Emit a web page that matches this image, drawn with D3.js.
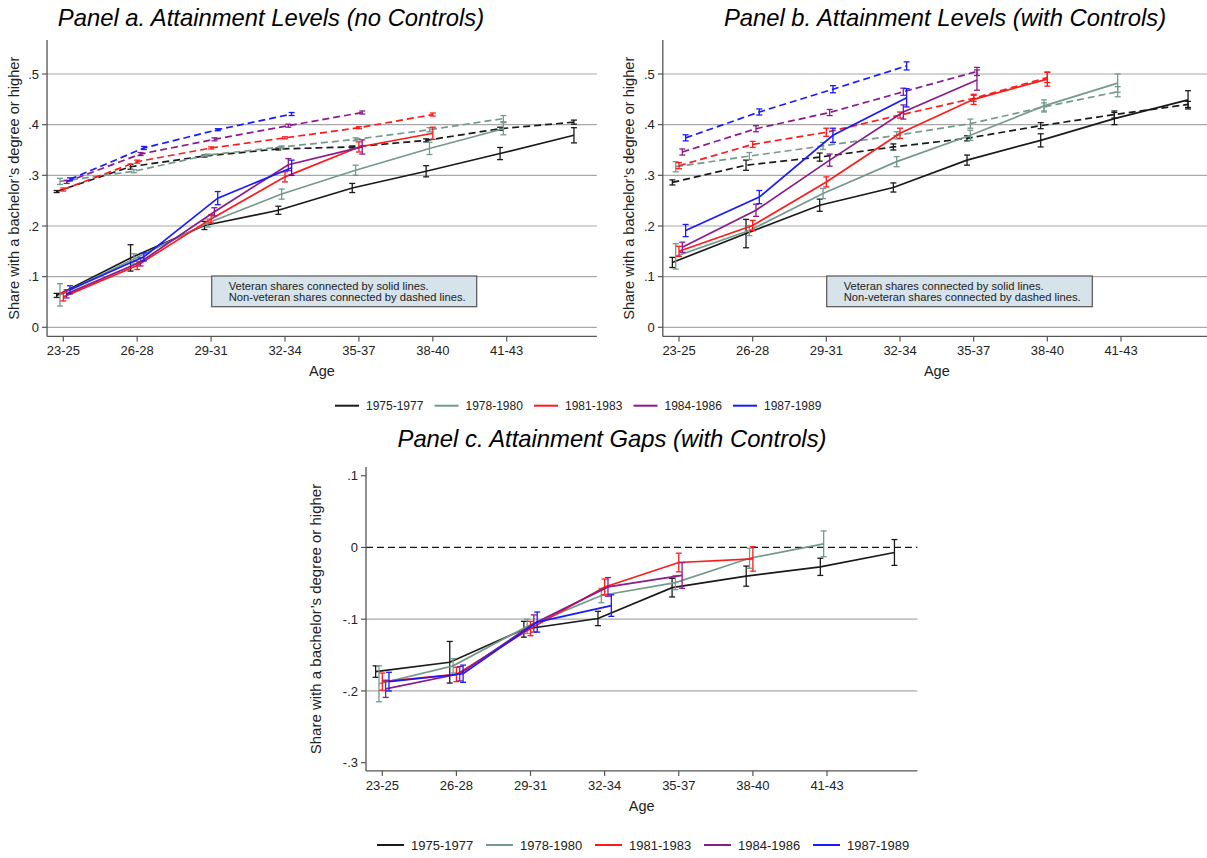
<!DOCTYPE html>
<html>
<head>
<meta charset="utf-8">
<script src="https://cdn.jsdelivr.net/npm/d3@7"></script>
<style>
  body { margin: 0; background: #fff; }
  svg { display: block; font-family: "Liberation Sans", Arial, sans-serif; }
</style>
</head>
<body>
<svg id="chart" width="1207" height="858"></svg>
<script>
// Cohorts and colours
const cohorts = ["1975-1977", "1978-1980", "1981-1983", "1984-1986", "1987-1989"];
const cohortColors = ["#1a1a1a", "#739a8a", "#ff1a1a", "#8b1a8b", "#1a1aff"];
const cohortOffsets = [-0.09, -0.045, 0, 0.045, 0.09];

// Age groups (last one has no tick label)
const ageGroups = ["23-25", "26-28", "29-31", "32-34", "35-37", "38-40", "41-43", "44-46"];
const tickLabels = ["23-25", "26-28", "29-31", "32-34", "35-37", "38-40", "41-43"];
const levelTicks = [0, 0.1, 0.2, 0.3, 0.4, 0.5];
const levelTickLabels = ["0", ".1", ".2", ".3", ".4", ".5"];
const gapTicks = [-0.3, -0.2, -0.1, 0, 0.1];
const gapTickLabels = ["-.3", "-.2", "-.1", "0", ".1"];
const noteLines = ["Veteran shares connected by solid lines.", "Non-veteran shares connected by dashed lines."];

// Panel a: no controls
const aVet = [
  [0.063, 0.137, 0.201, 0.231, 0.275, 0.308, 0.343, 0.379],
  [0.064, 0.135, 0.206, 0.263, 0.310, 0.353, 0.392],
  [0.060, 0.122, 0.214, 0.297, 0.356, 0.383],
  [0.066, 0.129, 0.228, 0.321, 0.356],
  [0.074, 0.139, 0.255, 0.315]
];
const aVetCI = [
  [0.004, 0.026, 0.008, 0.008, 0.009, 0.011, 0.012, 0.015],
  [0.022, 0.010, 0.008, 0.010, 0.010, 0.012, 0.012],
  [0.008, 0.008, 0.008, 0.010, 0.010, 0.012],
  [0.008, 0.008, 0.008, 0.012, 0.014],
  [0.008, 0.008, 0.013, 0.015]
];
const aNon = [
  [0.268, 0.317, 0.338, 0.352, 0.356, 0.369, 0.392, 0.405],
  [0.288, 0.308, 0.340, 0.356, 0.371, 0.390, 0.412],
  [0.272, 0.327, 0.354, 0.374, 0.394, 0.420],
  [0.287, 0.342, 0.371, 0.398, 0.424],
  [0.292, 0.354, 0.390, 0.421]
];
const aNonCI = [
  [0.002, 0.005, 0.002, 0.002, 0.002, 0.003, 0.003, 0.004],
  [0.006, 0.003, 0.002, 0.002, 0.003, 0.004, 0.006],
  [0.003, 0.003, 0.002, 0.002, 0.002, 0.003],
  [0.003, 0.003, 0.003, 0.003, 0.003],
  [0.003, 0.003, 0.002, 0.003]
];

// Panel b: with controls
const bVet = [
  [0.128, 0.185, 0.241, 0.276, 0.330, 0.369, 0.412, 0.449],
  [0.140, 0.191, 0.264, 0.327, 0.379, 0.437, 0.482],
  [0.150, 0.201, 0.287, 0.383, 0.450, 0.490],
  [0.158, 0.231, 0.330, 0.425, 0.488],
  [0.191, 0.257, 0.379, 0.453]
];
const bVetCI = [
  [0.010, 0.028, 0.012, 0.009, 0.010, 0.013, 0.012, 0.018],
  [0.025, 0.010, 0.010, 0.010, 0.010, 0.012, 0.018],
  [0.010, 0.010, 0.010, 0.010, 0.010, 0.014],
  [0.010, 0.012, 0.012, 0.014, 0.020],
  [0.012, 0.013, 0.014, 0.018]
];
const bNon = [
  [0.286, 0.320, 0.336, 0.356, 0.373, 0.398, 0.420, 0.440],
  [0.317, 0.338, 0.358, 0.379, 0.402, 0.435, 0.465],
  [0.319, 0.361, 0.385, 0.419, 0.452, 0.493],
  [0.346, 0.392, 0.424, 0.465, 0.505],
  [0.374, 0.425, 0.470, 0.516]
];
const bNonCI = [
  [0.005, 0.010, 0.008, 0.006, 0.005, 0.006, 0.007, 0.006],
  [0.010, 0.007, 0.007, 0.007, 0.009, 0.008, 0.010],
  [0.006, 0.006, 0.008, 0.006, 0.006, 0.010],
  [0.006, 0.006, 0.006, 0.007, 0.008],
  [0.006, 0.006, 0.007, 0.008]
];

// Panel c: gaps with controls
const cGap = [
  [-0.173, -0.160, -0.114, -0.099, -0.056, -0.040, -0.027, -0.007],
  [-0.190, -0.165, -0.110, -0.067, -0.049, -0.015, 0.005],
  [-0.187, -0.177, -0.113, -0.055, -0.021, -0.016],
  [-0.197, -0.176, -0.106, -0.055, -0.039],
  [-0.187, -0.176, -0.104, -0.081]
];
const cGapCI = [
  [0.008, 0.029, 0.011, 0.010, 0.013, 0.014, 0.012, 0.018],
  [0.025, 0.010, 0.010, 0.010, 0.010, 0.014, 0.018],
  [0.012, 0.010, 0.010, 0.011, 0.013, 0.017],
  [0.012, 0.010, 0.012, 0.013, 0.018],
  [0.013, 0.012, 0.014, 0.015]
];

const svg = d3.select("#chart");

function toPoints(vals, ci, k) {
  return vals.map((v, j) => ({ pos: j + cohortOffsets[k], v: v, lo: v - ci[j], hi: v + ci[j] }));
}

function drawPanel(p) {
  const g = svg.append("g");
  const x = d3.scaleLinear().domain([0, 6]).range(p.xRange);
  const y = d3.scaleLinear().domain(p.yDomain).range(p.yRange);
  const left = x(p.xExtent[0]), right = x(p.xExtent[1]);
  const top = y(p.yExtent[1]), bottom = y(p.yExtent[0]);

  // Gridlines
  g.append("g").selectAll("line")
    .data(p.grid)
    .enter().append("line")
    .attr("x1", left).attr("x2", right)
    .attr("y1", d => y(d)).attr("y2", d => y(d))
    .attr("stroke", "#a8a8a8").attr("stroke-width", 1.2);

  if (p.zeroLine) {
    g.append("line")
      .attr("x1", left).attr("x2", right)
      .attr("y1", y(0)).attr("y2", y(0))
      .attr("stroke", "#1a1a1a").attr("stroke-width", 1.3)
      .attr("stroke-dasharray", "7,4");
  }

  // Axes
  g.append("line").attr("x1", left).attr("x2", left).attr("y1", top).attr("y2", bottom)
    .attr("stroke", "#555").attr("stroke-width", 1.3);
  g.append("line").attr("x1", left).attr("x2", right).attr("y1", bottom).attr("y2", bottom)
    .attr("stroke", "#555").attr("stroke-width", 1.3);

  // Y ticks
  const yt = g.append("g").selectAll("g").data(p.yTicks).enter().append("g");
  yt.append("line").attr("x1", left - 5).attr("x2", left)
    .attr("y1", d => y(d)).attr("y2", d => y(d))
    .attr("stroke", "#555").attr("stroke-width", 1.2);
  yt.append("text").attr("x", left - 8).attr("y", d => y(d)).attr("dy", "0.35em")
    .attr("text-anchor", "end").attr("font-size", 13).attr("fill", "#222")
    .text((d, i) => p.yTickLabels[i]);

  // X ticks
  const xt = g.append("g").selectAll("g").data(tickLabels).enter().append("g");
  xt.append("line").attr("x1", (d, i) => x(i)).attr("x2", (d, i) => x(i))
    .attr("y1", bottom).attr("y2", bottom + 5)
    .attr("stroke", "#555").attr("stroke-width", 1.2);
  xt.append("text").attr("x", (d, i) => x(i)).attr("y", bottom + 19)
    .attr("text-anchor", "middle").attr("font-size", 13).attr("fill", "#222")
    .text(d => d);

  // Axis titles
  g.append("text").attr("x", (left + right) / 2).attr("y", bottom + 40)
    .attr("text-anchor", "middle").attr("font-size", 14.5).attr("fill", "#222").text("Age");
  g.append("text")
    .attr("transform", `translate(${p.yTitleX},${(top + bottom) / 2}) rotate(-90)`)
    .attr("text-anchor", "middle").attr("font-size", p.yTitleSize).attr("fill", "#222")
    .text("Share with a bachelor\u2019s degree or higher");

  // Panel title
  svg.append("text").attr("x", p.titleX).attr("y", p.titleY)
    .attr("text-anchor", "middle").attr("font-size", 23.8).attr("font-style", "italic")
    .attr("fill", "#000").text(p.title);

  // Note box
  if (p.noteBox) {
    const nb = p.noteBox;
    g.append("rect").attr("x", nb[0]).attr("y", nb[1]).attr("width", nb[2]).attr("height", nb[3])
      .attr("fill", "#d6e3ea").attr("stroke", "#555").attr("stroke-width", 1.2);
    g.selectAll("text.note").data(noteLines).enter().append("text")
      .attr("class", "note")
      .attr("x", nb[0] + 17).attr("y", (d, i) => nb[1] + 14 + i * 11)
      .attr("font-size", 11).attr("fill", "#222")
      .attr("textLength", (d, i) => i === 0 ? 200 : 237)
      .attr("lengthAdjust", "spacingAndGlyphs")
      .text(d => d);
  }

  const line = d3.line().x(d => x(d.pos)).y(d => y(d.v));

  p.series.forEach(s => {
    s.vals.forEach((vals, k) => {
      const pts = toPoints(vals, s.ci[k], k);
      const sg = g.append("g");
      sg.append("path").datum(pts).attr("d", line)
        .attr("fill", "none").attr("stroke", cohortColors[k]).attr("stroke-width", 1.7)
        .attr("stroke-dasharray", s.dashed ? "7,4" : null);
      const eb = sg.selectAll("g.eb").data(pts).enter().append("g");
      eb.append("line").attr("x1", d => x(d.pos)).attr("x2", d => x(d.pos))
        .attr("y1", d => y(d.lo)).attr("y2", d => y(d.hi));
      eb.append("line").attr("x1", d => x(d.pos) - 3).attr("x2", d => x(d.pos) + 3)
        .attr("y1", d => y(d.lo)).attr("y2", d => y(d.lo));
      eb.append("line").attr("x1", d => x(d.pos) - 3).attr("x2", d => x(d.pos) + 3)
        .attr("y1", d => y(d.hi)).attr("y2", d => y(d.hi));
      eb.selectAll("line").attr("stroke", cohortColors[k]).attr("stroke-width", 1.3);
    });
  });
}

function drawLegend(x0, yc, step, lineLen, fontSize) {
  const lg = svg.append("g");
  const items = lg.selectAll("g").data(cohorts).enter().append("g")
    .attr("transform", (d, i) => `translate(${x0 + i * step},${yc})`);
  items.append("line").attr("x1", 0).attr("x2", lineLen).attr("y1", 0).attr("y2", 0)
    .attr("stroke", (d, i) => cohortColors[i]).attr("stroke-width", 2);
  items.append("text").attr("x", lineLen + 7).attr("y", 0).attr("dy", "0.35em")
    .attr("font-size", fontSize).attr("fill", "#222").text(d => d);
}

drawPanel({
  title: "Panel a. Attainment Levels (no Controls)", titleX: 271, titleY: 26,
  xRange: [63.3, 506.7], xExtent: [-0.22, 7.22],
  yDomain: [0, 0.5], yRange: [327.3, 74], yExtent: [-0.018, 0.567],
  grid: levelTicks, yTicks: levelTicks, yTickLabels: levelTickLabels,
  yTitleX: 18.5, yTitleSize: 14.6, noteBox: [211.7, 276, 265, 30.7],
  series: [{ vals: aNon, ci: aNonCI, dashed: true }, { vals: aVet, ci: aVetCI, dashed: false }]
});

drawPanel({
  title: "Panel b. Attainment Levels (with Controls)", titleX: 945, titleY: 26,
  xRange: [679, 1121], xExtent: [-0.22, 7.22],
  yDomain: [0, 0.5], yRange: [327.3, 74], yExtent: [-0.018, 0.567],
  grid: levelTicks, yTicks: levelTicks, yTickLabels: levelTickLabels,
  yTitleX: 633.5, yTitleSize: 14.6, noteBox: [826.7, 276, 265.6, 30.7],
  series: [{ vals: bNon, ci: bNonCI, dashed: true }, { vals: bVet, ci: bVetCI, dashed: false }]
});

drawPanel({
  title: "Panel c. Attainment Gaps (with Controls)", titleX: 612, titleY: 447,
  xRange: [382.3, 827], xExtent: [-0.22, 7.22],
  yDomain: [-0.3, 0.1], yRange: [762.7, 475.7], yExtent: [-0.3115, 0.112],
  grid: [-0.2, -0.1], zeroLine: true, yTicks: gapTicks, yTickLabels: gapTickLabels,
  yTitleX: 320.5, yTitleSize: 15, noteBox: null,
  series: [{ vals: cGap, ci: cGapCI, dashed: false }]
});

drawLegend(335, 405.7, 99.5, 24, 12);
drawLegend(377, 845, 109, 27, 13);
</script>
</body>
</html>
